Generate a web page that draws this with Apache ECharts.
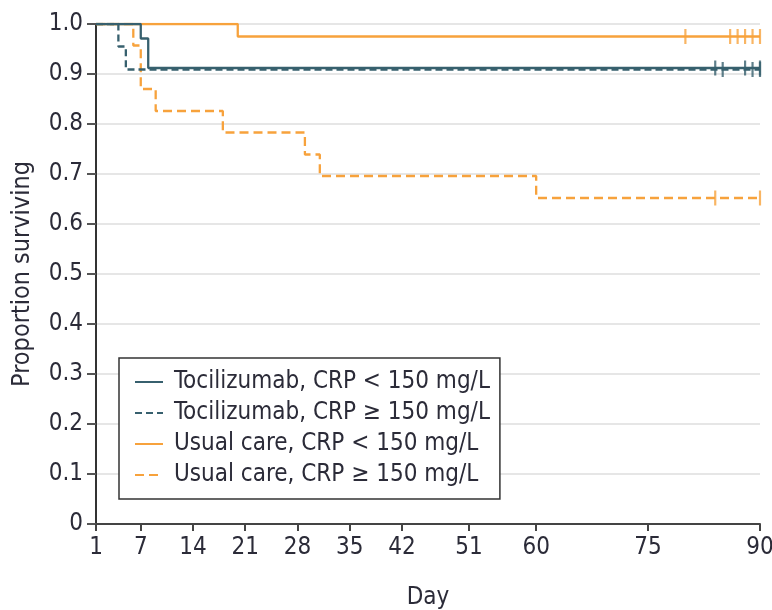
<!DOCTYPE html>
<html>
<head>
<meta charset="utf-8">
<script src="https://cdn.jsdelivr.net/npm/echarts@6/dist/echarts.min.js"></script>
<style>
html,body{margin:0;padding:0;background:#fff;}
#chart{width:772px;height:610px;}
</style>
</head>
<body>
<div id="chart"></div>
<script>
// Day tick labels on the x axis
const dayTicks = [1, 7, 14, 21, 28, 35, 42, 51, 60, 75, 90];

// Series names
const seriesNames = [
  'Tocilizumab, CRP < 150 mg/L',
  'Tocilizumab, CRP \u2265 150 mg/L',
  'Usual care, CRP < 150 mg/L',
  'Usual care, CRP \u2265 150 mg/L'
];

// Kaplan-Meier step data (event days and survival after event)
const tocLtDays = [1, 7, 8, 90];
const tocLtSurv = [1, 0.971, 0.912, 0.912];
const tocGeDays = [1, 4, 5, 90];
const tocGeSurv = [1, 0.955, 0.909, 0.909];
const ucLtDays = [1, 20, 90];
const ucLtSurv = [1, 0.975, 0.975];
const ucGeDays = [1, 6, 7, 9, 18, 29, 31, 60, 90];
const ucGeSurv = [1, 0.957, 0.870, 0.826, 0.783, 0.739, 0.696, 0.652, 0.652];

// Censoring marks (days)
const tocLtCensor = [84, 88, 90];
const tocGeCensor = [85, 89, 90];
const ucLtCensor = [80, 86, 87, 88, 89, 90];
const ucGeCensor = [84, 90];

const TEAL = '#37606e';
const ORANGE = '#f7a23c';
const TEXT = '#2b2b38';
const FONT = "'Liberation Sans Narrow', 'DejaVu Sans Condensed', 'Roboto', sans-serif";

function zip(a, b) { return a.map((v, i) => [v, b[i]]); }

function stepSeries(name, days, surv, color, dash) {
  return {
    name: name, type: 'line', step: 'end', symbol: 'none', showSymbol: false,
    data: zip(days, surv),
    lineStyle: { color: color, width: 2.3, type: dash },
    itemStyle: { color: color },
    z: 3
  };
}
function censorSeries(name, days, surv, color) {
  return {
    name: name, type: 'scatter', symbol: 'rect', symbolSize: [2.2, 15],
    data: days.map(d => [d, surv[surv.length - 1]]),
    itemStyle: { color: color },
    z: 4
  };
}

const chart = echarts.init(document.getElementById('chart'), null, { renderer: 'canvas' });
chart.setOption({
  animation: false,
  backgroundColor: '#fff',
  textStyle: { fontFamily: FONT },
  grid: { left: 96, right: 12, top: 24, bottom: 86, containLabel: false, outerBoundsMode: 'none' },
  xAxis: {
    type: 'value', min: 1, max: 90,
    name: 'Day', nameLocation: 'middle', nameGap: 62,
    nameTextStyle: { color: TEXT, fontSize: 24, fontFamily: FONT },
    axisLine: { show: true, lineStyle: { color: '#444', width: 2 } },
    axisTick: { show: true, length: 7, customValues: dayTicks, lineStyle: { color: '#444', width: 2 } },
    axisLabel: { customValues: dayTicks, color: TEXT, fontSize: 24, margin: 12, fontFamily: FONT },
    splitLine: { show: false }
  },
  yAxis: {
    type: 'value', min: 0, max: 1, interval: 0.1,
    name: 'Proportion surviving', nameLocation: 'middle', nameGap: 61,
    nameTextStyle: { color: TEXT, fontSize: 25, fontFamily: FONT },
    axisLine: { show: true, lineStyle: { color: '#333', width: 2 } },
    axisTick: { show: true, length: 9, lineStyle: { color: '#555', width: 2 } },
    axisLabel: {
      color: TEXT, fontSize: 24, margin: 13, fontFamily: FONT,
      formatter: v => (Math.abs(v) < 1e-9 ? '0' : v.toFixed(1))
    },
    splitLine: { show: true, lineStyle: { color: '#dedede', width: 1.5 } }
  },
  legend: {
    data: seriesNames,
    orient: 'vertical',
    left: 119, top: 358,
    padding: [12, 10, 12, 15],
    itemGap: 7,
    itemWidth: 28, itemHeight: 14,
    itemStyle: { opacity: 0 },
    borderColor: '#333', borderWidth: 1.5,
    backgroundColor: '#fff',
    textStyle: { color: TEXT, fontSize: 24, lineHeight: 24, padding: [0, 0, 0, 6], fontFamily: FONT }
  },
  series: [
    stepSeries(seriesNames[2], ucLtDays, ucLtSurv, ORANGE, 'solid'),
    stepSeries(seriesNames[3], ucGeDays, ucGeSurv, ORANGE, [9, 5]),
    stepSeries(seriesNames[0], tocLtDays, tocLtSurv, TEAL, 'solid'),
    stepSeries(seriesNames[1], tocGeDays, tocGeSurv, TEAL, [7, 4]),
    censorSeries('c1', ucLtCensor, ucLtSurv, ORANGE),
    censorSeries('c2', ucGeCensor, ucGeSurv, ORANGE),
    censorSeries('c3', tocLtCensor, tocLtSurv, TEAL),
    censorSeries('c4', tocGeCensor, tocGeSurv, TEAL)
  ]
});
</script>
</body>
</html>
